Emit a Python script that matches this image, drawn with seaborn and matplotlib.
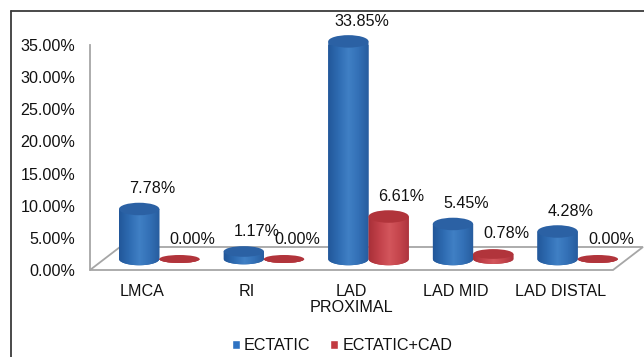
import numpy as np
import pandas as pd
import matplotlib
matplotlib.use("Agg")
import matplotlib.pyplot as plt
import seaborn as sns
from matplotlib.path import Path
from matplotlib.patches import PathPatch, Ellipse, Patch, Polygon, Rectangle
from matplotlib.transforms import ScaledTranslation
from matplotlib.colors import LinearSegmentedColormap, to_hex
from matplotlib.lines import Line2D

# --- data -------------------------------------------------------------
categories = ["LMCA", "RI", "LAD\nPROXIMAL", "LAD MID", "LAD DISTAL"]
ectatic = [7.78, 1.17, 33.85, 5.45, 4.28]
ectatic_cad = [0.00, 0.00, 6.61, 0.78, 0.00]
series_names = ["ECTATIC", "ECTATIC+CAD"]
y_ticks = [0, 5, 10, 15, 20, 25, 30, 35]

df = pd.DataFrame({
    "segment": categories * 2,
    "share": ectatic + ectatic_cad,
    "group": [series_names[0]] * len(categories) + [series_names[1]] * len(categories),
})

# --- figure -----------------------------------------------------------
sns.set_theme(style="white")
plt.rcParams["font.family"] = ["Liberation Sans", "DejaVu Sans"]
TEXT = "#111111"
FS = 11.6

W, H, DPI = 644, 357, 100
fig = plt.figure(figsize=(W / DPI, H / DPI), dpi=DPI)
fig.patch.set_facecolor("white")
ax = fig.add_axes([90 / W, 1 - 270 / H, 523 / W, 225 / H])

palette = {"ECTATIC": "#2F6DB5", "ECTATIC+CAD": "#C8424A"}
sns.barplot(data=df, x="segment", y="share", hue="group", palette=palette,
            width=0.77, saturation=1, errorbar=None, legend=False, ax=ax)
bars = sorted([p for p in ax.patches if isinstance(p, Rectangle)],
              key=lambda p: p.get_x())

ax.set_xlim(-0.5, len(categories) - 0.5)
ax.set_ylim(0, 35)
px_per_unit = (225 / 35)          # vertical pixels per percent
px_per_cat = 523 / len(categories)

# 3-D look: bars stand a little behind the front edge of the floor
depth = ScaledTranslation(17 / DPI, 11 / DPI, fig.dpi_scale_trans)
bar_tr = ax.transData + depth

# floor of the chart
fdx = 30 / px_per_cat
fdy = 23 / px_per_unit
floor = Polygon([(-0.5, 0), (4.5, 0), (4.5 + fdx, fdy), (-0.5 + fdx, fdy)],
                closed=True, facecolor="white", edgecolor="#A6A6A6",
                linewidth=1.3, zorder=0.5, clip_on=False)
ax.add_patch(floor)

body_maps = {
    "ECTATIC": LinearSegmentedColormap.from_list(
        "ect", ["#22579A", "#2E6BB1", "#4080C5", "#3370B6", "#275C9E"]),
    "ECTATIC+CAD": LinearSegmentedColormap.from_list(
        "cad", ["#AA3139", "#C2414A", "#D3565C", "#C5454C", "#AB333D"]),
}
top_colors = {"ECTATIC": "#2B61A4", "ECTATIC+CAD": "#B1343B"}
color_to_group = {to_hex(c): g for g, c in palette.items()}

grad = np.linspace(0, 1, 64).reshape(1, -1)
for i, p in enumerate(bars):
    group = color_to_group.get(to_hex(p.get_facecolor()), "ECTATIC")
    x0, w, h = p.get_x(), p.get_width(), p.get_height()
    p.set_visible(False)
    xc = x0 + w / 2
    z = 2 + i * 0.1
    e_px = 8 + 4.5 * min(h / 2, 1)
    e = e_px / px_per_unit

    t = np.linspace(np.pi, 2 * np.pi, 50)
    verts = [(x0, h)] + list(zip(xc + (w / 2) * np.cos(t), (e / 2) * np.sin(t))) \
        + [(x0 + w, h), (x0, h)]
    body = PathPatch(Path(np.array(verts), closed=True), transform=bar_tr,
                     facecolor=top_colors[group], edgecolor="none",
                     zorder=z, clip_on=False)
    ax.add_patch(body)
    im = ax.imshow(grad, cmap=body_maps[group], extent=[x0, x0 + w, -e, h],
                   aspect="auto", interpolation="bilinear", transform=bar_tr,
                   zorder=z + 0.01)
    im.set_clip_path(body)
    im.set_clip_box(None)

    top = Ellipse((xc, h), w, e, transform=bar_tr, facecolor=top_colors[group],
                  edgecolor="none", zorder=z + 0.02, clip_on=False)
    ax.add_patch(top)

    ax.annotate(f"{h:.2f}%", xy=(xc, h), xycoords=bar_tr,
                xytext=(13 * 0.72, 20 * 0.72), textcoords="offset points",
                ha="center", va="center", fontsize=FS, color=TEXT,
                annotation_clip=False, zorder=10)

ax.set_xlim(-0.5, len(categories) - 0.5)
ax.set_ylim(0, 35)

# --- axes styling -----------------------------------------------------
for side in ["top", "right", "bottom"]:
    ax.spines[side].set_visible(False)
ax.spines["left"].set_color("#A6A6A6")
ax.spines["left"].set_linewidth(1.3)
ax.spines["left"].set_zorder(1)
ax.set_facecolor("none")

ax.set_yticks(y_ticks)
ax.set_yticklabels([f"{v:.2f}%" for v in y_ticks])
ax.tick_params(axis="y", length=0, pad=10.5, labelsize=FS, labelcolor=TEXT)
ax.tick_params(axis="x", length=0, pad=10, labelsize=FS, labelcolor=TEXT)
for lbl in ax.get_xticklabels():
    lbl.set_linespacing(1.1)
ax.set_xlabel("")
ax.set_ylabel("")

# legend
handles = [Patch(facecolor="#2E72C2"), Patch(facecolor="#C23A41")]
fig.legend(handles, series_names, loc="center", bbox_to_anchor=(342 / W, 1 - 346 / H),
           ncol=2, frameon=False, fontsize=FS, labelcolor=TEXT,
           handlelength=0.5, handleheight=0.5, handletextpad=0.25,
           columnspacing=1.25)

# outer chart frame
fig.add_artist(Line2D([11 / W, 1], [1 - 11 / H, 1 - 11 / H], transform=fig.transFigure,
                      color="#3A3A3A", linewidth=1.3))
fig.add_artist(Line2D([11 / W, 11 / W], [0, 1 - 11 / H], transform=fig.transFigure,
                      color="#3A3A3A", linewidth=1.3))

fig.savefig("out.png", dpi=DPI, facecolor="white")
